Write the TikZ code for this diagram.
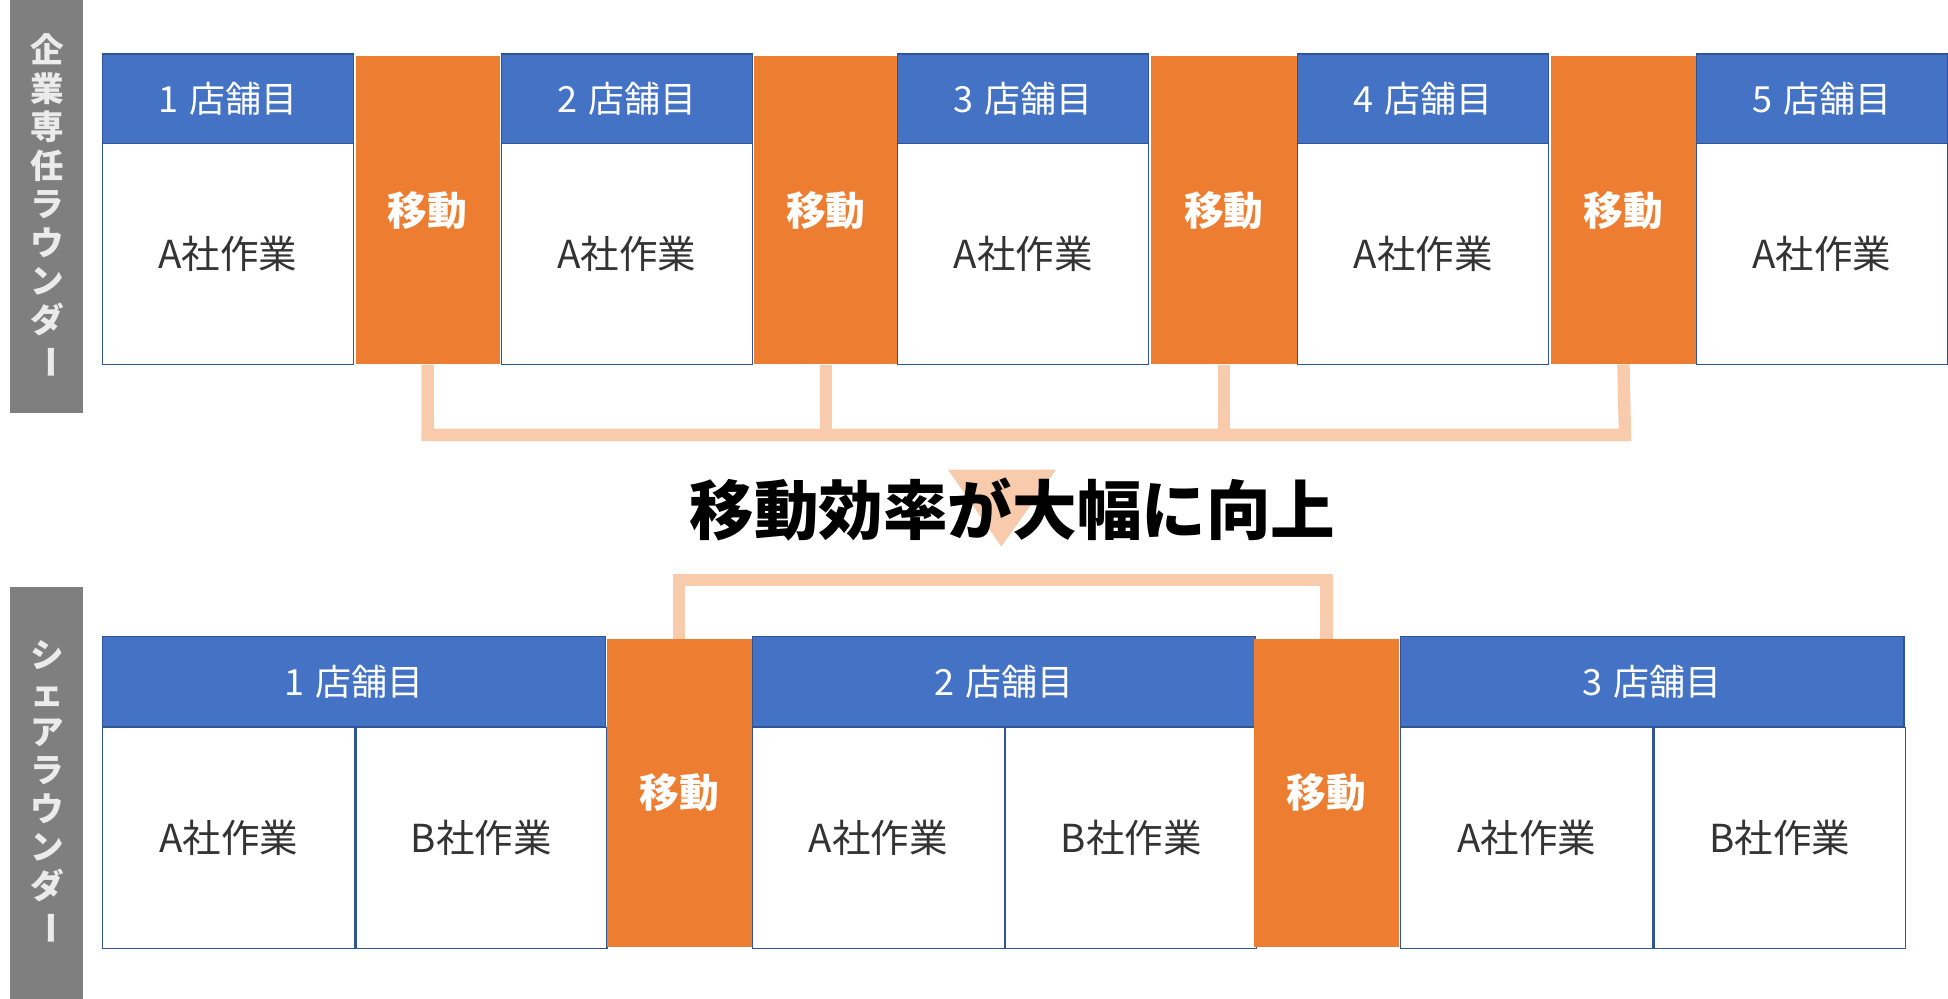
\documentclass[tikz,border=0pt]{standalone}
\usepackage{fontspec}
\setmainfont{Noto Sans CJK JP}
\usetikzlibrary{positioning}
\definecolor{hdblue}{HTML}{4472C4}
\definecolor{hdedge}{HTML}{2F5597}
\definecolor{mvorange}{HTML}{ED7D31}
\definecolor{lnpeach}{HTML}{F8CBAD}
\definecolor{sidegray}{HTML}{7F7F7F}
\newcommand{\vbar}{\rotatebox[origin=c]{-90}{ー}}
\tikzset{
  header/.style={draw=hdedge, line width=1pt, fill=hdblue, text=white, anchor=north west, inner sep=0pt, font=\fontsize{29}{29}\selectfont},
  work/.style={draw=hdedge, line width=1pt, fill=white, text=black!80, anchor=north west, inner sep=0pt, font=\fontsize{31}{31}\selectfont},
  move/.style={fill=mvorange, text=white, anchor=north west, inner sep=0pt, font=\bfseries\fontsize{32}{32}\selectfont},
  side/.style={fill=sidegray, text=white!92!black, anchor=north west, inner sep=0pt, minimum width=59pt, minimum height=332pt, align=center, font=\bfseries\fontsize{27}{31}\selectfont},
  link/.style={draw=lnpeach, line width=10pt},
}
\begin{document}
\begin{tikzpicture}[x=1pt,y=-1pt]
    \useasboundingbox (0,0) rectangle (1568,804);

    % Side labels
    \node[side] (side-a) at (8,0) {企\\業\\専\\任\\ラ\\ウ\\ン\\ダ\\\vbar};
    \node[side] (side-b) at (8,472) {シ\\ェ\\ア\\ラ\\ウ\\ン\\ダ\\\vbar};

    % Top row: stores
    \foreach \i/\x in {1/82,2/403,3/722,4/1044,5/1365} {
      \node[header, minimum width=202pt, minimum height=72pt] (top-h\i) at (\x,43) {\i\hspace{0.3em}店舗目};
      \node[work, minimum width=202pt, minimum height=178pt] (top-w\i) at (\x,115) {A社作業};
    }
    % Top row: moves
    \foreach \i/\x/\w in {1/286/116,2/607/115,3/926/118,4/1248/117} {
      \node[move, minimum width=\w pt, minimum height=248pt] (top-m\i) at (\x,45) {移動};
    }

    % Bottom row: stores
    \foreach \i/\x in {1/82,2/605,3/1127} {
      \node[header, minimum width=405pt, minimum height=72pt] (bot-h\i) at (\x,512) {\i\hspace{0.3em}店舗目};
      \node[work, minimum width=203pt, minimum height=178pt, below=0pt of bot-h\i.south west, anchor=north west] (bot-a\i) {A社作業};
      \node[work, minimum width=202pt, minimum height=178pt, right=0pt of bot-a\i.north east, anchor=north west] (bot-b\i) {B社作業};
    }
    % Bottom row: moves
    \foreach \i/\x in {1/488,2/1009} {
      \node[move, minimum width=117pt, minimum height=248pt] (bot-m\i) at (\x,514) {移動};
    }

    % Brackets
    \coordinate (top-bar-l) at (343,350);
    \coordinate (top-bar-r) at (1308,350);
    \draw[link] (top-m1.south) -- (top-m1.south |- top-bar-l) -- (top-bar-r) -- (top-m4.south);
    \draw[link] (top-m2.south) -- (top-m2.south |- top-bar-l);
    \draw[link] (top-m3.south) -- (top-m3.south |- top-bar-l);
    \coordinate (bot-bar) at (0,467);
    \draw[link] (bot-m1.north) -- (bot-m1.north |- bot-bar) -- (bot-m2.north |- bot-bar) -- (bot-m2.north);

    % Result
    \fill[lnpeach] (763,378) -- (850,378) -- (806,440) -- cycle;
    \node[font=\bfseries\fontsize{52}{52}\selectfont, text=black] (result) at (815,410) {移動効率が大幅に向上};

\end{tikzpicture}
\end{document}
